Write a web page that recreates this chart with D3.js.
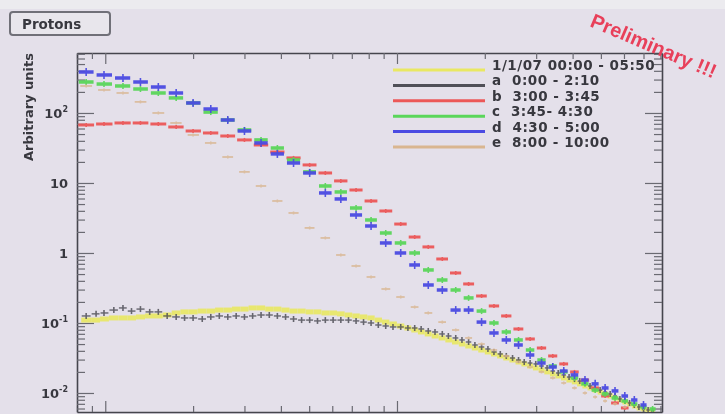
<!DOCTYPE html>
<html>
<head>
<meta charset="utf-8">
<script src="https://d3js.org/d3.v7.min.js"></script>
<style>
  body { margin: 0; background: #e4e0ea; }
  svg { display: block; font-family: "DejaVu Sans", Arial, sans-serif; filter: blur(0.4px); }
</style>
</head>
<body>
<script type="text/javascript">

// bin centres of the coarse binned spectra (b, c, d, e)
var xCoarse = [0.86, 0.99, 1.15, 1.32, 1.52, 1.75, 2.0, 2.3, 2.63, 3.0,
               3.42, 3.89, 4.42, 5.02, 5.68, 6.42, 7.24, 8.15, 9.15, 10.3,
               11.5, 12.8, 14.3, 15.9, 17.6, 19.5, 21.5, 23.7, 26.1, 28.6,
               31.3, 34.2, 37.3, 40.6, 44.1, 47.8, 51.7, 55.9, 60.4, 65.1,
               70.0, 75.2];

// bin centres of the fine binned spectra (full period and a)
var xFine = [0.86, 0.93, 0.99, 1.07, 1.15, 1.23, 1.32, 1.42, 1.52, 1.63,
             1.75, 1.87, 2.0, 2.15, 2.3, 2.46, 2.63, 2.81, 3.0, 3.2,
             3.42, 3.65, 3.89, 4.15, 4.42, 4.71, 5.02, 5.34, 5.68, 6.04,
             6.42, 6.82, 7.24, 7.68, 8.15, 8.63, 9.15, 9.69, 10.3, 10.9,
             11.5, 12.1, 12.8, 13.5, 14.3, 15.0, 15.9, 16.7, 17.6, 18.5,
             19.5, 20.5, 21.5, 22.6, 23.7, 24.9, 26.1, 27.3, 28.6, 29.9,
             31.3, 32.7, 34.2, 35.7, 37.3, 38.9, 40.6, 42.3, 44.1, 45.9,
             47.8, 49.7, 51.7, 53.8, 55.9, 58.1, 60.4, 62.7, 65.1, 67.5,
             70.0, 72.6, 75.2];

// 1/1/07 00:00 - 05:50 (yellow)
var fullPeriod = [0.110, 0.110, 0.114, 0.118, 0.118, 0.118, 0.122, 0.126, 0.126, 0.130,
                  0.139, 0.144, 0.144, 0.148, 0.148, 0.153, 0.153, 0.158, 0.158, 0.164,
                  0.164, 0.158, 0.158, 0.153, 0.148, 0.148, 0.144, 0.144, 0.139, 0.139,
                  0.135, 0.130, 0.126, 0.122, 0.118, 0.110, 0.103, 0.0968, 0.0906, 0.0848,
                  0.0794, 0.0744, 0.0697, 0.0652, 0.0611, 0.0572, 0.0535, 0.0501, 0.0469, 0.0439,
                  0.0411, 0.0385, 0.0361, 0.0338, 0.0316, 0.0296, 0.0277, 0.0260, 0.0243, 0.0228,
                  0.0213, 0.0200, 0.0187, 0.0175, 0.0164, 0.0153, 0.0144, 0.0135, 0.0126, 0.0118,
                  0.0110, 0.0103, 0.00968, 0.00906, 0.00848, 0.00794, 0.00744, 0.00697, 0.00652, 0.00611,
                  0.00591, 0.00572, 0.00553];

// a: 0:00 - 2:10 (black)
var periodA = [0.126, 0.135, 0.139, 0.153, 0.164, 0.148, 0.158, 0.144, 0.144, 0.126,
               0.122, 0.118, 0.118, 0.114, 0.122, 0.126, 0.122, 0.126, 0.122, 0.126,
               0.130, 0.130, 0.126, 0.122, 0.114, 0.110, 0.110, 0.107, 0.110, 0.110,
               0.110, 0.110, 0.107, 0.103, 0.100, 0.0936, 0.0906, 0.0877, 0.0877, 0.0848,
               0.0848, 0.0821, 0.0769, 0.0744, 0.0697, 0.0652, 0.0611, 0.0572, 0.0535, 0.0485,
               0.0454, 0.0425, 0.0385, 0.0361, 0.0338, 0.0316, 0.0296, 0.0277, 0.0268, 0.0260,
               0.0243, 0.0228, 0.0206, 0.0193, 0.0181, 0.0169, 0.0158, 0.0148, 0.0139, 0.0126,
               0.0118, 0.0110, 0.0103, 0.00968, 0.00906, 0.00821, 0.00769, 0.00720, 0.00674, 0.00631,
               0.00591, 0.00572, 0.00553];

// b: 3:00 - 3:45 (red)
var periodB = [67.4, 69.6, 72.0, 72.0, 69.6, 63.1, 55.3, 51.8, 46.9, 41.2,
               34.9, 27.7, 22.8, 18.1, 13.9, 10.7, 7.94, 5.53, 3.98, 2.59,
               1.69, 1.22, 0.821, 0.518, 0.361, 0.243, 0.175, 0.126, 0.0821, 0.0591,
               0.0439, 0.0338, 0.0260, 0.0200, 0.0153, 0.0118, 0.00906, 0.00720, 0.00611];

// c: 3:45 - 4:30 (green)
var periodC = [277, 259, 243, 220, 193, 164, 139, 103, 79.4, 57.2,
               41.2, 31.6, 21.3, 14.4, 9.06, 7.44, 4.39, 2.96, 1.93, 1.39,
               1.0, 0.572, 0.411, 0.296, 0.228, 0.148, 0.100, 0.0744, 0.0572, 0.0411,
               0.0296, 0.0243, 0.0200, 0.0164, 0.0135, 0.0110, 0.00968, 0.00848, 0.00769, 0.00697,
               0.00631, 0.00591];

// d: 4:30 - 5:00 (blue)
var periodD = [385, 349, 316, 277, 235, 193, 139, 114, 79.4, 55.3,
               37.3, 26.0, 19.3, 13.9, 7.20, 5.91, 3.49, 2.43, 1.39, 1.0,
               0.674, 0.349, 0.296, 0.153, 0.153, 0.103, 0.0720, 0.0572, 0.0485, 0.0349,
               0.0268, 0.0235, 0.0206, 0.0181, 0.0153, 0.0135, 0.0118, 0.0107, 0.00906, 0.00794,
               0.00674];

// e: 8:00 - 10:00 (tan)
var periodE = [243, 213, 193, 144, 100, 72.0, 48.5, 37.3, 23.5, 14.4,
               9.06, 5.53, 3.73, 2.28, 1.64, 0.936, 0.652, 0.454, 0.306, 0.235,
               0.169, 0.139, 0.103, 0.0794, 0.0611, 0.0501, 0.0411, 0.0338, 0.0277, 0.0235,
               0.0200, 0.0164, 0.0139, 0.0118, 0.0100, 0.00877, 0.00769, 0.00697, 0.00631];

var legendLabels = ["1/1/07 00:00 - 05:50", "a  0:00 - 2:10", "b  3:00 - 3:45",
                    "c  3:45- 4:30", "d  4:30 - 5:00", "e  8:00 - 10:00"];
var legendColors = ["#e9e862", "#505058", "#ec5858", "#5ad65a", "#4b4be2", "#d9b690"];

var yLabelValues = [100, 10, 1, 0.1, 0.01];
var yLabelText = [["10", "2"], ["10", ""], ["1", ""], ["10", "-1"], ["10", "-2"]];

var width = 725, height = 414;
var plot = {left: 77, right: 662, top: 53, bottom: 412};

var svg = d3.select('body').append('svg')
    .attr('width', width)
    .attr('height', height);

svg.append('rect').attr('width', width).attr('height', height).attr('fill', '#e4e0ea');
svg.append('rect').attr('width', width).attr('height', 9).attr('fill', '#ecebef');

var x = d3.scaleLog().domain([0.8, 81]).range([plot.left, plot.right]);
var y = d3.scaleLog().domain([0.00535, 719]).range([plot.bottom, plot.top]);

svg.append('clipPath').attr('id', 'frame')
  .append('rect')
    .attr('x', plot.left).attr('y', plot.top)
    .attr('width', plot.right - plot.left).attr('height', plot.bottom - plot.top);

// tick values: every 1..9 x decade inside the domain
function logTicks(scale) {
    var d = scale.domain(), out = [];
    for (var e = -4; e <= 3; e++)
        for (var m = 1; m <= 9; m++) {
            var v = m * Math.pow(10, e);
            if (v >= d[0] && v <= d[1]) out.push(+v.toPrecision(3));
        }
    return out;
}
function isMajor(v) {
    var l = Math.log10(v);
    return Math.abs(l - Math.round(l)) < 1e-6;
}

var xTicks = logTicks(x), yTicks = logTicks(y);

function styleAxis(g, big, small, sign, horizontal) {
    g.select('.domain').attr('stroke', '#45454d').attr('stroke-width', 1.6);
    g.selectAll('.tick text').remove();
    g.selectAll('.tick line')
        .attr('stroke', '#6a6a72')
        .attr('stroke-width', 1.2)
        .attr(horizontal ? 'y2' : 'x2', d => sign * (isMajor(d) ? big : small));
}

svg.append('g').attr('transform', 'translate(0,' + plot.bottom + ')')
    .call(d3.axisTop(x).tickValues(xTicks).tickSizeOuter(0))
    .call(g => styleAxis(g, 11, 6, -1, true));
svg.append('g').attr('transform', 'translate(0,' + plot.top + ')')
    .call(d3.axisBottom(x).tickValues(xTicks).tickSizeOuter(0))
    .call(g => styleAxis(g, 11, 6, 1, true));
svg.append('g').attr('transform', 'translate(' + plot.left + ',0)')
    .call(d3.axisRight(y).tickValues(yTicks).tickSizeOuter(0))
    .call(g => styleAxis(g, 17, 8, 1, false));
svg.append('g').attr('transform', 'translate(' + plot.right + ',0)')
    .call(d3.axisLeft(y).tickValues(yTicks).tickSizeOuter(0))
    .call(g => styleAxis(g, 17, 8, -1, false));

// y labels with exponents
var ylab = svg.append('g')
    .attr('font-weight', 'bold').attr('font-size', 13).attr('fill', '#38383f')
    .attr('text-anchor', 'end');
yLabelValues.forEach(function(v, i) {
    var t = ylab.append('text').attr('x', 68).attr('y', y(v) + 5);
    t.append('tspan').text(yLabelText[i][0]);
    if (yLabelText[i][1])
        t.append('tspan').attr('dy', -6).attr('font-size', 8).text(yLabelText[i][1]);
});

svg.append('text')
    .attr('transform', 'translate(33,' + plot.top + ') rotate(-90)')
    .attr('text-anchor', 'end')
    .attr('font-weight', 'bold').attr('font-size', 13).attr('fill', '#38383f')
    .text('Arbitrary units');

// one histogram: horizontal bar over the bin plus a vertical error bar
function drawSeries(xs, ys, color, hw, vh, gap, opacity) {
    var pts = ys.map(function(v, i) {
        var lo = i > 0 ? Math.sqrt(xs[i - 1] * xs[i]) : xs[0] * xs[0] / Math.sqrt(xs[0] * xs[1]);
        var hi = i < xs.length - 1 ? Math.sqrt(xs[i] * xs[i + 1]) : xs[i] * xs[i] / Math.sqrt(xs[i - 1] * xs[i]);
        return {x: xs[i], y: v, lo: lo, hi: hi};
    });
    var g = svg.append('g').attr('clip-path', 'url(#frame)')
        .attr('stroke', color).attr('opacity', opacity);
    g.selectAll('.h').data(pts).enter().append('line')
        .attr('x1', d => x(d.lo) + gap).attr('x2', d => x(d.hi) - gap)
        .attr('y1', d => y(d.y)).attr('y2', d => y(d.y))
        .attr('stroke-width', hw);
    if (vh > 0)
        g.selectAll('.v').data(pts).enter().append('line')
            .attr('x1', d => x(d.x)).attr('x2', d => x(d.x))
            .attr('y1', d => y(d.y) - vh).attr('y2', d => y(d.y) + vh)
            .attr('stroke-width', 1.6);
}

drawSeries(xFine, fullPeriod, legendColors[0], 5, 0, 0, 0.9);
drawSeries(xFine, periodA, legendColors[1], 1.4, 3, 0.5, 0.85);
drawSeries(xCoarse, periodB, legendColors[2], 3, 2, 1, 0.95);
drawSeries(xCoarse, periodC, legendColors[3], 3.5, 3, 1.5, 0.95);
drawSeries(xCoarse, periodD, legendColors[4], 3.5, 4, 1.5, 0.95);
drawSeries(xCoarse, periodE, legendColors[5], 1.8, 1.5, 3, 0.8);

// legend
var legend = svg.append('g').attr('transform', 'translate(393,70)');
legendLabels.forEach(function(label, i) {
    legend.append('line')
        .attr('x1', 0).attr('x2', 92)
        .attr('y1', i * 15.4).attr('y2', i * 15.4)
        .attr('stroke', legendColors[i]).attr('stroke-width', 3);
    legend.append('text')
        .attr('x', 99).attr('y', i * 15.4)
        .attr('font-weight', 'bold').attr('font-size', 13.5).attr('fill', '#38383f')
        .attr('letter-spacing', 0.5)
        .style('white-space', 'pre')
        .text(label);
});

// title box
svg.append('rect')
    .attr('x', 10).attr('y', 12).attr('width', 100).attr('height', 23).attr('rx', 3)
    .attr('fill', '#e8e6ec').attr('stroke', '#707078').attr('stroke-width', 2);
svg.append('text')
    .attr('x', 22).attr('y', 29)
    .attr('font-weight', 'bold').attr('font-size', 13.5).attr('fill', '#38383f')
    .text('Protons');

svg.append('text')
    .attr('transform', 'translate(589,26) rotate(23)')
    .attr('font-family', '"Liberation Sans", Arial, sans-serif')
    .attr('font-weight', 'bold').attr('font-size', 20).attr('fill', '#e8405a')
    .text('Preliminary !!!');

</script>
</body>
</html>
